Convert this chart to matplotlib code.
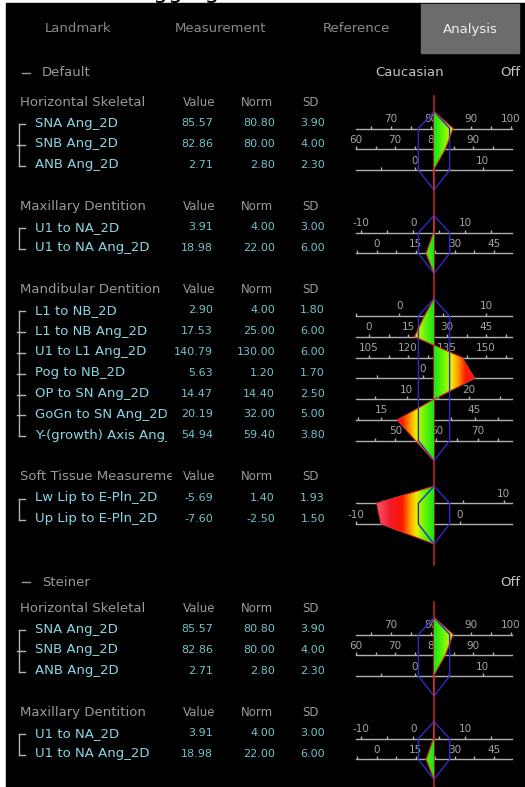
import numpy as np
import matplotlib.pyplot as plt
from matplotlib.colors import LinearSegmentedColormap
from matplotlib.patches import Polygon, Rectangle

plt.rcParams["font.family"] = ["DejaVu Sans"]

# ---- data ----
tabs = ["Landmark", "Measurement", "Reference", "Analysis"]
active_tab = "Analysis"

hs_title = "Horizontal Skeletal"
hs_names = ["SNA Ang_2D", "SNB Ang_2D", "ANB Ang_2D"]
hs_value = [85.57, 82.86, 2.71]
hs_norm = [80.80, 80.00, 2.80]
hs_sd = [3.90, 4.00, 2.30]
hs_major = [10, 10, 10]

mx_title = "Maxillary Dentition"
mx_names = ["U1 to NA_2D", "U1 to NA Ang_2D"]
mx_value = [3.91, 18.98]
mx_norm = [4.00, 22.00]
mx_sd = [3.00, 6.00]
mx_major = [10, 15]

md_title = "Mandibular Dentition"
md_names = ["L1 to NB_2D", "L1 to NB Ang_2D", "U1 to L1 Ang_2D", "Pog to NB_2D",
            "OP to SN Ang_2D", "GoGn to SN Ang_2D", "Y-(growth) Axis Ang_2D"]
md_value = [2.90, 17.53, 140.79, 5.63, 14.47, 20.19, 54.94]
md_norm = [4.00, 25.00, 130.00, 1.20, 14.40, 32.00, 59.40]
md_sd = [1.80, 6.00, 6.00, 1.70, 2.50, 5.00, 3.80]
md_major = [10, 15, 15, 10, 10, 15, 10]

st_title = "Soft Tissue Measurement"
st_names = ["Lw Lip to E-Pln_2D", "Up Lip to E-Pln_2D"]
st_value = [-5.69, -7.60]
st_norm = [1.40, -2.50]
st_sd = [1.93, 1.50]
st_major = [10, 10]

hs = (hs_title, hs_names, hs_value, hs_norm, hs_sd, hs_major)
mx = (mx_title, mx_names, mx_value, mx_norm, mx_sd, mx_major)
md = (md_title, md_names, md_value, md_norm, md_sd, md_major)
st = (st_title, st_names, st_value, st_norm, st_sd, st_major)

sections = [("Default", "Caucasian", [hs, mx, md, st]),
            ("Steiner", None, [hs, mx])]

# ---- layout ----
W, H = 525, 787
CX, K = 434, 15.6          # norm line (px) and px per SD
ZMIN, ZMAX = -5.03, 4.97   # visible scale range in SD
ROW = 20.8

GRAY = "#9a9a9a"
NAME = "#8ad6e2"
NUM = "#74c2c8"

fig = plt.figure(figsize=(W / 100, H / 100), dpi=100, facecolor="white")
ax = fig.add_axes([0, 0, 1, 1])
ax.set_xlim(0, W)
ax.set_ylim(H, 0)
ax.axis("off")

# chart column: x in SD units, y in pixel rows
c0 = 340
pax = fig.add_axes([c0 / W, 0, (W - c0) / W, 1])
zl0, zl1 = (c0 - CX) / K, (W - CX) / K
pax.set_xlim(zl0, zl1)
pax.set_ylim(H, 0)
pax.set_autoscale_on(False)
pax.axis("off")

ax.add_patch(Rectangle((6, 3), W - 6, H - 3, color="black", zorder=0))
ax.text(128, -2, "Tagging", color="black", fontsize=17, va="baseline", zorder=-1)

cmap = LinearSegmentedColormap.from_list(
    "dev", [(0, "#18e418"), (0.19, "#80f800"), (0.29, "#f2f000"), (0.4, "#ff9600"),
            (0.52, "#ff1800"), (0.72, "#f01a2a"), (1.0, "#ff6a7a")])
grad = np.abs(np.linspace(zl0, zl1, 400))[None, :]


def label(x, y, s, color, size, ha="left", clip=None, z=3):
    t = ax.text(x, y, s, color=color, fontsize=size, ha=ha, va="center", zorder=z)
    if clip is not None:
        # the list column cuts long names off before the Value column
        ax.add_patch(Rectangle((clip, y - 9), 217 - clip, 18, color="black", zorder=z + 0.5))
    return t


# tabs
tab_x = [78, 220, 356, 470]
for name, x in zip(tabs, tab_x):
    if name == active_tab:
        ax.add_patch(Rectangle((421, 4), 98, 49, color="#6c6c6c", zorder=1))
        label(x, 29, name, "#f0f0f0", 9.5, ha="center")
    else:
        label(x, 29, name, "#8a8a8a", 9.5, ha="center")


def draw_group(yg, group):
    title, names, value, norm, sd, major = group
    label(20, yg, title, GRAY, 9.5, clip=172, z=2)
    label(215, yg, "Value", GRAY, 8.5, ha="right", z=4)
    label(273, yg, "Norm", GRAY, 8.5, ha="right")
    label(302, yg, "SD", GRAY, 8.5)
    rows = [yg + 21 + i * ROW for i in range(len(names))]
    for y, n, v, m, s in zip(rows, names, value, norm, sd):
        label(35, y, n, NAME, 9.5, clip=167, z=2)
        label(213, y, f"{v:.2f}", NUM, 8, ha="right", z=4)
        label(275, y, f"{m:.2f}", NUM, 8, ha="right")
        label(325, y, f"{s:.2f}", NUM, 8, ha="right")
    # bracket
    ax.plot([19, 19], [rows[0] + 1, rows[-1] + 1], color="#b4b4b4", lw=1, zorder=2)
    for y in rows:
        ax.plot([17 if y not in (rows[0], rows[-1]) else 19, 25], [y + 1, y + 1],
                color="#b4b4b4", lw=1, zorder=2)

    # scales
    lines = [y + 5.5 for y in rows]
    for yl, m, s, mj in zip(lines, norm, sd, major):
        pax.plot([ZMIN, ZMAX], [yl, yl], color="#b0b0b0", lw=1, zorder=1)
        lo, hi = m + ZMIN * s, m + ZMAX * s
        ticks = np.arange(np.ceil(lo / (mj / 2)), np.floor(hi / (mj / 2)) + 1) * (mj / 2)
        pax.vlines((ticks - m) / s, yl - 3, yl, color="#b0b0b0", lw=1, zorder=1)
        for t in ticks:
            if t % mj == 0:
                pax.text((t - m) / s, yl - 9.5, f"{abs(t) if t == 0 else t:g}",
                         color="#a4a4a4", fontsize=7.5, ha="center", va="center", zorder=1)

    # deviation polygon
    top, bot = lines[0] - 17, lines[-1] + 20
    zs = [(v - m) / s for v, m, s in zip(value, norm, sd)]
    px = [0] + zs + [0]
    py = [top] + lines + [bot]
    poly = Polygon(list(zip(px, py)), closed=True, facecolor="none", edgecolor="none")
    pax.add_patch(poly)
    im = pax.imshow(grad, extent=(zl0, zl1, bot, top), cmap=cmap, vmin=0, vmax=3.9,
                    aspect="auto", interpolation="bilinear", zorder=3)
    im.set_clip_path(poly)
    pax.plot(px, py, color="#d83030", lw=0.8, zorder=5)
    for side in (-1, 1):
        pax.plot([0, side, side, 0], [top, lines[0], lines[-1], bot],
                 color="#2c2cc8", lw=1, zorder=4)
    return rows[-1], top, bot


y = 73
for si, (title, tag, groups) in enumerate(sections):
    ax.plot([22, 30], [y, y], color=GRAY, lw=1, zorder=2)
    label(42, y, title, GRAY, 9.5)
    if tag:
        label(410, y, tag, "#c4c4c4", 9.5, ha="center")
    label(520, y, "Off", "#c4c4c4", 9.5, ha="right")
    yg = y + 29 if si == 0 else y + 26
    first_top = None
    for group in groups:
        last, top, bot = draw_group(yg, group)
        if first_top is None:
            first_top = top
        yg = last + 41.5
    end = bot + 21 if si < len(sections) - 1 else H
    pax.plot([0, 0], [first_top - 16, end], color="#c02020", lw=1.2, zorder=2)
    y = last + 63.5

fig.savefig("out.png", dpi=100, facecolor="white")
